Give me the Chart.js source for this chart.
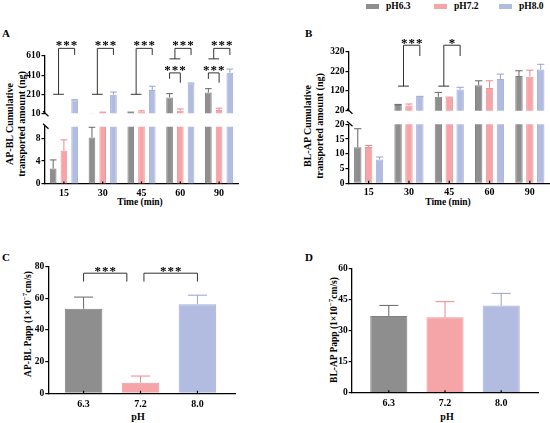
<!DOCTYPE html>
<html>
<head>
<meta charset="utf-8">
<script src="https://cdn.jsdelivr.net/npm/chart.js@4.4.1/dist/chart.umd.min.js"></script>
<style>
html, body { margin: 0; padding: 0; background: #fff; overflow: hidden; }
#fig { position: relative; width: 550px; height: 423px; font-family: 'Liberation Serif', 'Times New Roman', serif; font-weight: bold; color: #000; }
#fig canvas { position: absolute; }
.t { position: absolute; white-space: nowrap; line-height: 1; }
.c { transform: translate(-50%, -50%); }
.rot { transform: translate(-50%, -50%) rotate(-90deg); text-align: center; line-height: 12px; }
.sw { position: absolute; width: 13px; height: 5px; top: 4px; }
sup { font-size: 7px; vertical-align: 4px; }
</style>
</head>
<body>
<div id="fig">
  <div class="sw" style="left:366px;background:#8e8e8e"></div>
  <div class="t" style="left:386px;top:2px;font-size:9.5px">pH6.3</div>
  <div class="sw" style="left:434px;background:#f5a4a7"></div>
  <div class="t" style="left:454px;top:2px;font-size:9.5px">pH7.2</div>
  <div class="sw" style="left:499px;background:#b2bce0"></div>
  <div class="t" style="left:519px;top:2px;font-size:9.5px">pH8.0</div>

  <div class="t" style="left:2px;top:28px;font-size:11px">A</div>
  <div class="t" style="left:305px;top:28px;font-size:11px">B</div>
  <div class="t" style="left:2px;top:252px;font-size:11px">C</div>
  <div class="t" style="left:305px;top:252px;font-size:11px">D</div>

  <div class="t rot" style="left:16px;top:124px;font-size:10px">AP-BL Cumulative<br>transported amount (ng)</div>
  <div class="t rot" style="left:314px;top:126px;font-size:10px">BL-AP Cumulative<br>transported amount (ng)</div>
  <div class="t rot" style="left:26px;top:324px;font-size:9.5px">AP-BL Papp (1×10<sup>−7</sup>cm/s)</div>
  <div class="t rot" style="left:332px;top:330px;font-size:9.5px">BL-AP Papp (1×10<sup>−7</sup>cm/s)</div>

  <div class="t c" style="left:140px;top:203px;font-size:9.5px">Time (min)</div>
  <div class="t c" style="left:448px;top:203px;font-size:9.5px">Time (min)</div>
  <div class="t c" style="left:138px;top:417px;font-size:10px">pH</div>
  <div class="t c" style="left:447px;top:417px;font-size:10px">pH</div>

  <canvas id="aTop"></canvas>
  <canvas id="aLow"></canvas>
  <canvas id="bTop"></canvas>
  <canvas id="bLow"></canvas>
  <canvas id="cChart"></canvas>
  <canvas id="dChart"></canvas>
</div>

<script>
'use strict';

// --- data ---
const timeLabels = ['15', '30', '45', '60', '90'];
const phLabels = ['6.3', '7.2', '8.0'];
const seriesNames = ['pH6.3', 'pH7.2', 'pH8.0'];

// A: AP-BL cumulative amount (ng), mean and SD
const aGray = [2.7, 8.1, 18, 176, 228];
const aGraySd = [1.5, 1.8, 4, 40, 40];
const aPink = [5.8, 18, 28, 37, 44];
const aPinkSd = [1.9, 4, 8, 18, 20];
const aBlue = [147, 205, 253, 323, 435];
const aBlueSd = [5, 28, 40, 4, 38];

// B: BL-AP cumulative amount (ng)
const bGray = [12.2, 49, 91, 150, 196];
const bGraySd = [6.3, 3, 22, 22, 27];
const bPink = [12.3, 47, 86, 136, 193];
const bPinkSd = [0.5, 7, 3, 36, 33];
const bBlue = [8.1, 91, 128, 181, 229];
const bBlueSd = [0.8, 2, 11, 25, 27];

// C / D: Papp (1e-7 cm/s)
const cPapp = [53.4, 6.7, 56.3];
const cPappSd = [7.4, 4.2, 5.7];
const dPapp = [37.0, 36.4, 42.0];
const dPappSd = [5.1, 7.5, 5.9];

// --- styles ---
const fills = ['#8e8e8e', '#f5a4a7', '#b2bce0'];
const edges = ['#7f7f7f', '#ef959a', '#a3aed9'];
const errCols = ['#666666', '#ef868d', '#96a2d3'];

Chart.defaults.font.family = "'Liberation Serif', 'Times New Roman', serif";
Chart.defaults.font.weight = 'bold';
Chart.defaults.color = '#000';

// upward-only error bars with a cap
const errorBars = {
    id: 'errorBars',
    afterDatasetsDraw(chart) {
        const ctx = chart.ctx, ys = chart.scales.y;
        chart.data.datasets.forEach((ds, di) => {
            if (!ds.sd) return;
            chart.getDatasetMeta(di).data.forEach((bar, i) => {
                const raw = ds.data[i];
                const v = typeof raw === 'object' ? raw.y : raw;
                if (v < ys.min || v > ys.max) return;
                const yTop = ys.getPixelForValue(v + ds.sd[i]);
                const half = Math.min(bar.width, 19) / 2;
                ctx.save();
                ctx.strokeStyle = Array.isArray(ds.errColor) ? ds.errColor[i] : ds.errColor;
                ctx.lineWidth = 1;
                ctx.beginPath();
                ctx.moveTo(bar.x, bar.y);
                ctx.lineTo(bar.x, yTop);
                ctx.moveTo(bar.x - half, yTop);
                ctx.lineTo(bar.x + half, yTop);
                ctx.stroke();
                ctx.restore();
            });
        });
    }
};

// significance brackets
function bracketPlugin(items, dy) {
    return {
        id: 'brackets',
        afterDraw(chart) {
            const ctx = chart.ctx, ys = chart.scales.y, xs = chart.scales.x;
            const barX = (d, c) => chart.getDatasetMeta(d).data[c].x;
            ctx.save();
            ctx.strokeStyle = '#333';
            ctx.lineWidth = 1;
            ctx.fillStyle = '#000';
            ctx.font = "bold 13px 'Liberation Serif'";
            ctx.letterSpacing = '1px';
            ctx.textAlign = 'center';
            ctx.textBaseline = 'alphabetic';
            items.forEach(b => {
                const yt = ys.getPixelForValue(b.top);
                const yl = ys.getPixelForValue(b.footL);
                const yr = ys.getPixelForValue(b.footR);
                let xl, xr;
                ctx.beginPath();
                if (b.kind === 'tee') {
                    const xg = barX(0, b.cat), xp = barX(1, b.cat);
                    xr = barX(2, b.cat);
                    xl = (xg + xp) / 2;
                    ctx.moveTo(xg, yl);
                    ctx.lineTo(xp, yl);
                } else if (b.kind === 'pair') {
                    xl = barX(0, b.cat);
                    xr = barX(1, b.cat);
                } else {
                    xl = xs.getPixelForValue(b.from);
                    xr = xs.getPixelForValue(b.to);
                }
                ctx.moveTo(xl, yl);
                ctx.lineTo(xl, yt);
                ctx.lineTo(xr, yt);
                ctx.lineTo(xr, yr);
                ctx.stroke();
                ctx.fillText(b.label, (xl + xr) / 2 + 0.5, yt + dy);
            });
            ctx.restore();
        }
    };
}

// axis break slashes and small inner ticks
function axisMarks(brk, inner) {
    return {
        id: 'axisMarks',
        afterDraw(chart) {
            const ctx = chart.ctx, a = chart.chartArea, xs = chart.scales.x;
            ctx.save();
            ctx.strokeStyle = '#000';
            ctx.lineWidth = 1.2;
            ctx.beginPath();
            if (brk === 'bottom') { ctx.moveTo(a.left - 1.5, a.bottom - 2); ctx.lineTo(a.left + 4, a.bottom + 3); }
            if (brk === 'top') { ctx.moveTo(a.left - 1.5, a.top - 3); ctx.lineTo(a.left + 4, a.top + 2); }
            if (inner) {
                xs.ticks.forEach((t, i) => {
                    const x = xs.getPixelForTick(i);
                    ctx.moveTo(x, a.bottom);
                    ctx.lineTo(x, a.bottom - 2.5);
                });
            }
            ctx.stroke();
            ctx.restore();
        }
    };
}

function timeSets(vals, sds, catPct, barPct) {
    return vals.map((v, k) => ({
        label: seriesNames[k],
        data: v,
        sd: sds[k],
        backgroundColor: fills[k],
        borderColor: edges[k],
        errColor: errCols[k],
        borderWidth: 1,
        borderSkipped: false,
        clip: 0,
        categoryPercentage: catPct,
        barPercentage: barPct
    }));
}

function papSet(vals, sds) {
    return [{
        data: vals.map((v, i) => ({ x: i, y: v })),
        sd: sds,
        backgroundColor: fills,
        borderColor: edges,
        errColor: errCols,
        borderWidth: 1,
        clip: 0,
        categoryPercentage: 1,
        barPercentage: 0.66
    }];
}

function makeChart(id, box, area, o) {
    const cv = document.getElementById(id);
    Object.assign(cv.style, { left: box.x + 'px', top: box.y + 'px', width: box.w + 'px', height: box.h + 'px' });
    cv.width = box.w;
    cv.height = box.h;
    const xOpts = Object.assign({
        display: o.showX,
        offset: true,
        grid: { display: false, drawTicks: false, tickLength: 0 },
        border: { display: true, color: '#000', width: 1.3 },
        ticks: { font: { size: 10 }, padding: o.xPad || 3 }
    }, o.x || {});
    if (o.showX) xOpts.afterFit = s => { s.height = box.y + box.h - area.b; };
    return new Chart(cv, {
        type: 'bar',
        data: { labels: o.labels, datasets: o.datasets },
        plugins: [errorBars, bracketPlugin(o.brackets || [], o.dy || 0), axisMarks(o.brk, o.showX)],
        options: {
            responsive: false,
            animation: false,
            layout: { padding: { left: 0, top: area.t - box.y, right: box.x + box.w - area.r, bottom: o.showX ? 0 : box.y + box.h - area.b } },
            plugins: { legend: { display: false }, tooltip: { enabled: false } },
            scales: {
                x: xOpts,
                y: {
                    min: o.min, max: o.max,
                    ticks: { stepSize: o.step, font: { size: 9.5 }, padding: 1 },
                    grid: { drawOnChartArea: false, tickLength: 3, color: '#000', lineWidth: 1.2 },
                    border: { color: '#000', width: 1.3 },
                    afterFit: s => { s.width = area.l - box.x; }
                }
            }
        }
    });
}

// --- panel A (broken axis: two stacked charts) ---
const aSets = [[aGray, aPink, aBlue], [aGraySd, aPinkSd, aBlueSd]];
const aBrackets = [
    { kind: 'tee', cat: 0, top: 690, footL: 209, footR: 621, label: '***' },
    { kind: 'tee', cat: 1, top: 690, footL: 209, footR: 621, label: '***' },
    { kind: 'tee', cat: 2, top: 690, footL: 209, footR: 621, label: '***' },
    { kind: 'tee', cat: 3, top: 690, footL: 580, footR: 621, label: '***' },
    { kind: 'tee', cat: 4, top: 690, footL: 580, footR: 621, label: '***' },
    { kind: 'pair', cat: 3, top: 433, footL: 371, footR: 330, label: '***' },
    { kind: 'pair', cat: 4, top: 433, footL: 371, footR: 330, label: '***' }
];
makeChart('aTop', { x: 0, y: 30, w: 245, h: 90 }, { l: 44.5, t: 56, r: 238.5, b: 114.3 }, {
    labels: timeLabels, datasets: timeSets(aSets[0], aSets[1], 0.83, 0.62),
    min: 10, max: 610, step: 200, showX: false, brk: 'bottom', brackets: aBrackets, dy: 1
});
makeChart('aLow', { x: 0, y: 118, w: 245, h: 82 }, { l: 44.5, t: 126.7, r: 238.5, b: 184 }, {
    labels: timeLabels, datasets: timeSets(aSets[0], aSets[1], 0.83, 0.62),
    min: 0, max: 10, step: 2, showX: true, brk: 'top', xPad: 3
});

// --- panel B ---
const bSets = [[bGray, bPink, bBlue], [bGraySd, bPinkSd, bBlueSd]];
const bBrackets = [
    { kind: 'tee', cat: 1, top: 353, footL: 145, footR: 298, label: '***' },
    { kind: 'tee', cat: 2, top: 353, footL: 145, footR: 298, label: '*' }
];
makeChart('bTop', { x: 290, y: 30, w: 260, h: 88 }, { l: 348.5, t: 51.7, r: 550, b: 110.7 }, {
    labels: timeLabels, datasets: timeSets(bSets[0], bSets[1], 0.81, 0.68),
    min: 20, max: 320, step: 100, showX: false, brk: 'bottom', brackets: bBrackets, dy: 1.3
});
makeChart('bLow', { x: 290, y: 116, w: 260, h: 84 }, { l: 348.5, t: 124.3, r: 550, b: 183.3 }, {
    labels: timeLabels, datasets: timeSets(bSets[0], bSets[1], 0.81, 0.68),
    min: 0, max: 20, step: 5, showX: true, brk: 'top', xPad: 3
});

// --- panels C and D (bars on index positions) ---
function indexAxis(lo, hi) {
    return {
        type: 'linear', offset: false, min: lo, max: hi,
        afterBuildTicks: s => { s.ticks = phLabels.map((_, i) => ({ value: i })); },
        ticks: { font: { size: 10 }, padding: 5, callback: v => phLabels[v] }
    };
}
makeChart('cChart', { x: 0, y: 250, w: 250, h: 165 }, { l: 48.3, t: 266.7, r: 235, b: 393.3 }, {
    labels: phLabels, datasets: papSet(cPapp, cPappSd),
    min: 0, max: 80, step: 20, showX: true, x: indexAxis(-0.62, 2.66),
    brackets: [
        { kind: 'span', from: 0, to: 0.76, top: 75.9, footL: 70.6, footR: 70.6, label: '***' },
        { kind: 'span', from: 1.06, to: 2, top: 75.9, footL: 70.6, footR: 70.6, label: '***' }
    ],
    dy: 1.5
});
makeChart('dChart', { x: 290, y: 250, w: 260, h: 165 }, { l: 351.7, t: 268.3, r: 538.3, b: 392.7 }, {
    labels: phLabels, datasets: papSet(dPapp, dPappSd),
    min: 0, max: 60, step: 15, showX: true, x: indexAxis(-0.66, 2.66)
});
</script>
</body>
</html>
